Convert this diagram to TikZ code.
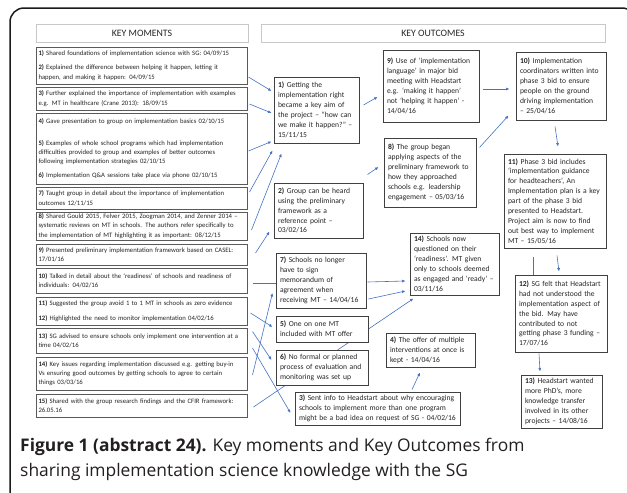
\documentclass[tikz,border=0pt]{standalone}
\usepackage{fontspec}
\setmainfont{Carlito}
\newfontfamily\capfont{Open Sans}
\usepackage{tikz}
\usetikzlibrary{arrows.meta,calc}
\definecolor{frameink}{HTML}{1A1A1A}
\definecolor{boxink}{HTML}{5A5A5A}
\definecolor{outink}{HTML}{404040}
\definecolor{headink}{HTML}{C8C8C8}
\definecolor{linkblue}{HTML}{4472C4}
\definecolor{textink}{HTML}{262626}
\definecolor{capink}{HTML}{231F20}
\pgfdeclarelayer{back}
\pgfsetlayers{back,main}
\tikzset{
  headbox/.style={draw=headink,fill=white,line width=0.8pt,inner sep=0pt,
                  font=\fontsize{9.8}{11}\selectfont,text=textink},
  momentbox/.style={draw=boxink,fill=white,line width=1pt,
                    inner xsep=2.5pt,inner ysep=1pt,text width=206pt,
                    font=\fontsize{6.7}{9.4}\selectfont,text=textink},
  outcomebox/.style={draw=outink,fill=white,line width=1pt,
                     inner xsep=4pt,inner ysep=1pt,
                     font=\fontsize{7.6}{9.9}\selectfont,text=textink},
  linkarr/.style={-{Latex[length=3.5pt,width=3pt]},line width=0.6pt,color=linkblue},
  linkline/.style={line width=0.6pt,color=linkblue}
}

\begin{document}
\begin{tikzpicture}[x=1pt,y=-1pt]
  \useasboundingbox (0,0) rectangle (627,493);
  \draw[frameink,line width=1.5pt,rounded corners=14pt] (10,8) rectangle (636,505);

  % headers
  \node[headbox,minimum width=212pt,minimum height=17.5pt] (hmom) at (142,33.5) {KEY MOMENTS};
  \node[headbox,minimum width=344pt,minimum height=18.5pt] (hout) at (433,33.5) {KEY OUTCOMES};

  % key moments
  \node[momentbox,minimum height=37pt] (km12) at (141.5,65.5) {\textbf{1)} Shared foundations of implementation science with SG: 04/09/15\\[4.5pt]
    \textbf{2)} Explained the difference between helping it happen, letting it\\happen, and making it happen: 04/09/15};
  \node[momentbox,minimum height=23pt] (km3) at (141.5,98.5) {\textbf{3)} Further explained the importance of implementation with examples\\e.g. MT in healthcare (Crane 2013): 18/09/15};
  \node[momentbox,minimum height=71pt] (km456) at (141.5,148.5) {\textbf{4)} Gave presentation to group on implementation basics 02/10/15\\[12.5pt]
    \textbf{5)} Examples of whole school programs which had implementation\\difficulties provided to group and examples of better outcomes\\following implementation strategies 02/10/15\\[4.5pt]
    \textbf{6)} Implementation Q\&A sessions take place via phone 02/10/15};
  \node[momentbox,minimum height=22pt] (km7) at (141.5,198) {\textbf{7)} Taught group in detail about the importance of implementation\\outcomes 12/11/15};
  \node[momentbox,minimum height=28pt] (km8) at (141.5,226) {\textbf{8)} Shared Gould 2015, Felver 2015, Zoogman 2014, and Zenner~2014~–\\systematic reviews on MT in schools. The authors refer specifically to\\the implementation of MT highlighting it as important: 08/12/15};
  \node[momentbox,minimum height=21pt] (km9) at (141.5,254.5) {\textbf{9)} Presented preliminary implementation framework based on CASEL:\\17/01/16};
  \node[momentbox,minimum height=25pt] (km10) at (141.5,280.5) {\textbf{10)} Talked in detail about the ‘readiness’ of schools and readiness of\\individuals: 04/02/16};
  \node[momentbox,minimum height=28pt] (km1112) at (141.5,311) {\textbf{11)} Suggested the group avoid 1 to 1 MT in schools as zero evidence\\[5pt]
    \textbf{12)} Highlighted the need to monitor implementation 04/02/16};
  \node[momentbox,minimum height=25pt] (km13) at (141.5,340.5) {\textbf{13)} SG advised to ensure schools only implement one intervention at~a\\time 04/02/16};
  \node[momentbox,minimum height=33pt] (km14) at (141.5,373.5) {\textbf{14)} Key issues regarding implementation discussed e.g. getting buy-in\\Vs ensuring good outcomes by getting schools to agree to certain\\things 03/03/16};
  \node[momentbox,minimum height=23pt] (km15) at (141.5,405.5) {\textbf{15)} Shared with the group research findings and the CFIR framework:\\26.05.16};

  % key outcomes
  \node[outcomebox,text width=77pt,minimum height=66pt] (o1) at (316.5,110) {\textbf{1)} Getting the\\implementation right\\became a key aim of\\the project – “how can\\we make it happen?”~–\\15/11/15};
  \node[outcomebox,text width=81pt,minimum height=55pt] (o2) at (318.5,210.5) {\textbf{2)} Group can be heard\\using the preliminary\\framework as a\\reference point~–\\03/02/16};
  \node[outcomebox,text width=82pt,minimum height=55pt] (o7) at (321,280.5) {\textbf{7)} Schools no longer\\have to sign\\memorandum of\\agreement when\\receiving MT – 14/04/16};
  \node[outcomebox,text width=84pt,minimum height=26pt] (o5) at (322,329) {\textbf{5)} One on one MT\\included with MT offer};
  \node[outcomebox,text width=84pt,minimum height=35pt] (o6) at (322,367.5) {\textbf{6)} No formal or planned\\process of evaluation and\\monitoring was set up};
  \node[outcomebox,text width=157pt,minimum height=33pt] (o3) at (377.5,408.5) {\textbf{3)} Sent info to Headstart about why encouraging\\schools to implement more than one program\\might be a bad idea on request of SG - 04/02/16};
  \node[outcomebox,text width=88pt,minimum height=72pt] (o9) at (431,86) {\textbf{9)} Use of ‘implementation\\language’ in major bid\\meeting with Headstart\\e.g. ‘making it happen’\\not ‘helping it happen’~-\\14/04/16};
  \node[outcomebox,text width=84pt,minimum height=69pt] (o8) at (430,172.5) {\textbf{8)} The group began\\applying aspects of the\\preliminary framework to\\how they approached\\schools e.g. leadership\\engagement – 05/03/16};
  \node[outcomebox,text width=81pt,minimum height=62pt] (o14) at (454.5,264) {\textbf{14)} Schools now\\questioned on their\\‘readiness’. MT given\\only to schools deemed\\as engaged and ‘ready’~–\\03/11/16};
  \node[outcomebox,text width=81pt,minimum height=34pt] (o4) at (430.5,350) {\textbf{4)} The offer of multiple\\interventions at once is\\kept - 14/04/16};
  \node[outcomebox,text width=82pt,minimum height=68pt] (o10) at (561,86) {\textbf{10)} Implementation\\coordinators written into\\phase 3 bid to ensure\\people on the ground\\driving implementation\\– 25/04/16};
  \node[outcomebox,text width=94pt,minimum height=94pt] (o11) at (555,201) {\textbf{11)} Phase 3 bid includes\\‘implementation guidance\\for headteachers’, An\\Implementation plan is a key\\part of the phase 3 bid\\presented to Headstart.\\Project aim is now to find\\out best way to implement\\MT – 15/05/16};
  \node[outcomebox,text width=84pt,minimum height=77pt] (o12) at (561,313.5) {\textbf{12)} SG felt that Headstart\\had not understood the\\implementation aspect of\\the bid. May have\\contributed to not\\getting phase 3 funding~–\\17/07/16};
  \node[outcomebox,text width=73pt,minimum height=53pt] (o13) at (561.5,401.5) {\textbf{13)} Headstart wanted\\more PhD’s, more\\knowledge transfer\\involved in its other\\projects – 14/08/16};

  % connectors
  \begin{pgfonlayer}{back}
    \draw[linkarr] ([xshift=1pt,yshift=-11.5pt]km12.east) -- ([xshift=-2pt,yshift=19pt]o1.west);
    \draw[linkarr] ([xshift=2pt,yshift=-5.5pt]km3.east) -- ([xshift=-2pt,yshift=-3pt]o1.west);
    \draw[linkarr] ([xshift=1pt,yshift=-2.5pt]km456.east) -- ([xshift=-2pt,yshift=2pt]o1.south west);
    \draw[linkarr] ([xshift=2pt,yshift=6pt]km7.east) -- ([xshift=-1pt,yshift=-7pt]o1.south west);
    \draw[linkarr] ([xshift=4pt,yshift=-4pt]km8.east) -- ([xshift=8pt,yshift=-10pt]o1.south west);
    \draw[linkarr] ([xshift=8pt,yshift=1.5pt]km9.east) -- ([xshift=-4pt,yshift=7pt]o2.south west);
    \draw[linkline] ([xshift=5pt,yshift=-2.5pt]km10.east) -- ([yshift=-2.5pt]o7.west);
    \draw[linkarr] ([xshift=3pt,yshift=-2pt]km1112.east) -- ([xshift=-3pt,yshift=2pt]o5.west);
    \draw[linkarr] ([xshift=5pt,yshift=9pt]km13.east) -- ([xshift=-4pt,yshift=7.5pt]o6.west);
    \draw[linkarr] ([xshift=5pt,yshift=-7.5pt]km13.east) -- ([xshift=-4pt,yshift=-4.5pt]o3.west);
    \draw[linkarr] ([xshift=5pt,yshift=-1.5pt]km14.east) -- ([xshift=-3pt,yshift=-12.5pt]o7.west);
    \draw[linkarr] ([xshift=6pt,yshift=-1.5pt]km15.east) -- ([xshift=4pt,yshift=-3pt]o14.south west);
    \draw[linkarr] ([xshift=4pt,yshift=5pt]o1.east) -- ([xshift=-5pt,yshift=-11pt]o9.west);
    \draw[linkarr] ([xshift=4pt,yshift=8pt]o2.north east) -- ([xshift=-5pt,yshift=5.5pt]o8.west);
    \draw[linkarr] ([xshift=3pt,yshift=-3pt]o9.east) -- ([xshift=-6pt,yshift=-3pt]o10.west);
    \draw[linkarr] ([xshift=3pt,yshift=-10pt]o8.north east) -- ([xshift=-7pt,yshift=5pt]o10.south west);
    \draw[linkarr] ([xshift=-6pt,yshift=-6pt]o10.south) -- ([xshift=3pt,yshift=7pt]o11.north);
    \draw[linkarr] ([xshift=2pt,yshift=-7pt]o11.south) -- ([xshift=-2pt,yshift=3pt]o12.north);
    \draw[linkline] ([xshift=-22pt,yshift=-8pt]o11.south) -- ([xshift=-28pt]o12.north);
    \draw[linkarr] ([xshift=-22pt,yshift=-1pt]o12.south) -- ([xshift=-21.5pt,yshift=3pt]o13.north);
    \draw[linkarr] ([xshift=1pt,yshift=-1.5pt]o7.east) -- ([xshift=-4pt,yshift=-17pt]o14.west);
    \draw[linkarr] ([xshift=2pt,yshift=-18.5pt]o7.east) -- ([xshift=-4pt,yshift=-27pt]o14.west);
    \draw[linkarr] ([xshift=34.5pt,yshift=2pt]o3.north) -- ([xshift=-10.5pt,yshift=-5pt]o4.south);
  \end{pgfonlayer}

  % caption
  \node[anchor=north west,inner sep=0pt,align=left,text=capink,
        font=\capfont\fontsize{17.4}{25}\selectfont] (cap) at (20,438)
    {\textbf{Figure 1 (abstract 24).} Key moments and Key Outcomes from\\sharing implementation science knowledge with the SG};
\end{tikzpicture}
\end{document}
